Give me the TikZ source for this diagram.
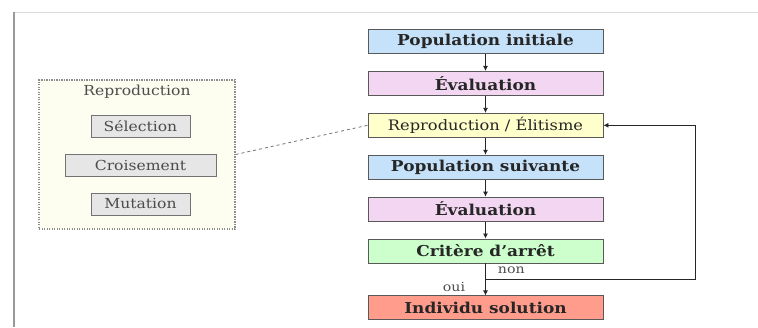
\documentclass[tikz,border=0pt]{standalone}
\usepackage{fontspec}
\setmainfont{DejaVu Serif}[FakeStretch=1.13]
\usepackage{tikz}
\usetikzlibrary{arrows.meta, positioning}
\usepackage{xcolor}

\definecolor{popblue}{HTML}{C6E2FA}
\definecolor{evalpink}{HTML}{F3D6F1}
\definecolor{repyellow}{HTML}{FFFFCC}
\definecolor{stopgreen}{HTML}{CCFFCC}
\definecolor{solred}{HTML}{FF9C8C}
\definecolor{opgray}{HTML}{E6E6E6}
\definecolor{groupfill}{HTML}{FEFEF0}

\begin{document}
\begin{tikzpicture}[
      x=1pt, y=-1pt,
      node distance=17pt,
      stage/.style={draw=black!65, line width=0.9pt, minimum width=235pt, minimum height=24pt, inner sep=0pt, align=center,
        font=\fontsize{15}{17}\selectfont\bfseries, text=black!85},
      op/.style={draw=black!55, line width=0.9pt, fill=opgray, minimum height=22pt, inner sep=0pt,
        font=\fontsize{13.8}{15}\selectfont, text=black!70},
      lbl/.style={font=\fontsize{12.5}{14}\selectfont, text=black!70, inner sep=0pt},
      arr/.style={-{Latex[length=5pt,width=5pt]}, line width=0.8pt, draw=black!85}
    ]
    \useasboundingbox (0,0) rectangle (758,327);

    % page edges
    \draw[black!15, line width=0.8pt] (14,12) -- (758,12);
    \draw[black!40, line width=1.6pt] (14,12) -- (14,327);

    % main loop
    \node[stage, fill=popblue] (init) at (485.5,41.5) {Population initiale};
    \node[stage, fill=evalpink, below=of init] (eval1) {Évaluation};
    \node[stage, fill=repyellow, below=of eval1, font=\fontsize{14.4}{16}\selectfont] (rep) {Reproduction / Élitisme};
    \node[stage, fill=popblue, below=of rep] (next) {Population suivante};
    \node[stage, fill=evalpink, below=of next] (eval2) {Évaluation};
    \node[stage, fill=stopgreen, below=of eval2] (stop) {Critère d’arrêt};
    \node[stage, fill=solred, below=32pt of stop] (sol) {Individu solution};

    \draw[arr] (init) -- (eval1);
    \draw[arr] (eval1) -- (rep);
    \draw[arr] (rep) -- (next);
    \draw[arr] (next) -- (eval2);
    \draw[arr] (eval2) -- (stop);
    \draw[arr] (stop) -- node[lbl, pos=0.75, anchor=east, xshift=-20pt] {oui} (sol);

    \coordinate (split) at (485.5,279);
    \coordinate (corner) at (695,279);
    \draw[arr] (split) -- node[lbl, at start, anchor=west, xshift=12pt, yshift=9pt] {non} (corner) |- (rep.east);

    % reproduction operators
    \node[draw=black!45, dash pattern=on 1.2pt off 1.3pt, line width=1.1pt, fill=groupfill, minimum width=196pt, minimum height=149pt] (group) at (137,154.5) {};
    \node[lbl, font=\fontsize{13.8}{15}\selectfont] (grouptitle) at (137,92) {Reproduction};
    \node[op, minimum width=99pt] (sel) at (140.5,126) {Sélection};
    \node[op, minimum width=151pt] (cross) at (140.5,165) {Croisement};
    \node[op, minimum width=99pt] (mut) at (140.5,204) {Mutation};

    \draw[dashed, black!55, line width=0.8pt] (group.east) -- (rep.west);
  \end{tikzpicture}
\end{document}
